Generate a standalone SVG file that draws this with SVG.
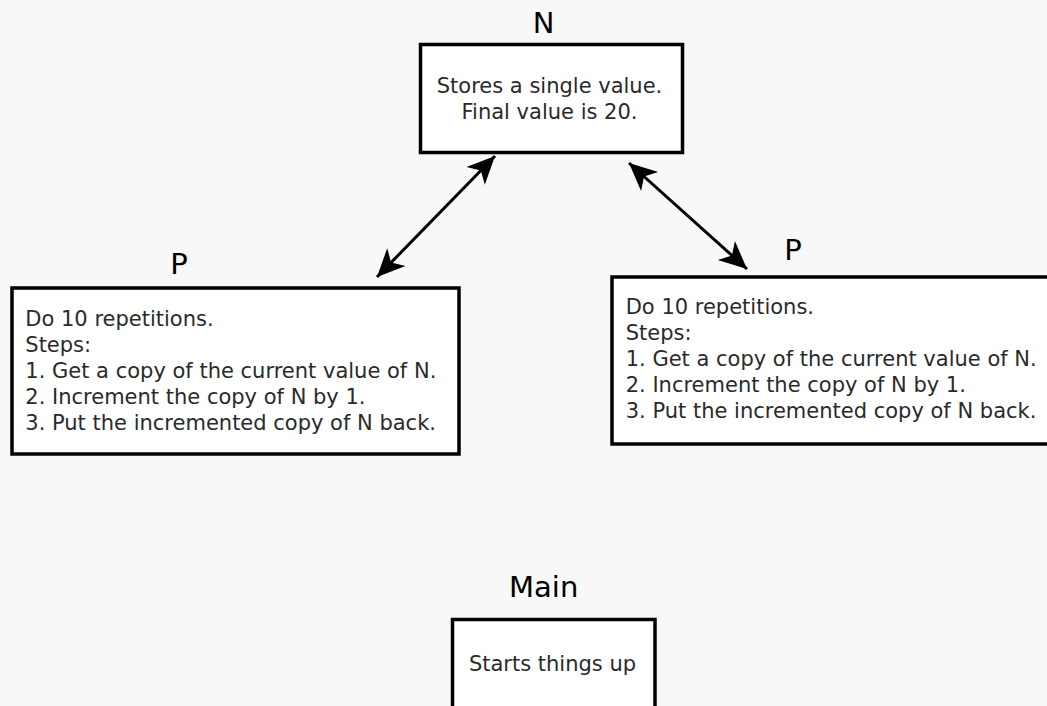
<svg xmlns="http://www.w3.org/2000/svg" width="1047" height="706" viewBox="0 0 1047 706">
<style>
.box{fill:#ffffff;stroke:#000000;stroke-width:3.5}
.title{font-family:"DejaVu Sans","Liberation Sans",sans-serif;font-size:29px;fill:#000000;text-anchor:middle}
.body{font-family:"DejaVu Sans","Liberation Sans",sans-serif;font-size:21px;fill:#2a2a2a}
.mid{text-anchor:middle}
.conn{fill:none;stroke:#000000;stroke-width:3;marker-start:url(#ah);marker-end:url(#ah)}
</style>
<defs>
<marker id="ah" markerUnits="userSpaceOnUse" markerWidth="32" markerHeight="32" viewBox="-28 -14 30 28" refX="0" refY="0" orient="auto-start-reverse">
<path d="M0,0 L-26,-12 L-19,0 L-26,12 Z" fill="#000000"/>
</marker>
</defs>
<rect x="0" y="0" width="1047" height="706" fill="#f8f8f8"/>
<g id="connectors">
<line class="conn" x1="377" y1="277" x2="495" y2="156"/>
<line class="conn" x1="629" y1="163" x2="747" y2="269"/>
</g>
<g id="node-n">
<text class="title" x="543.5" y="33">N</text>
<rect class="box" x="420.5" y="44.5" width="262" height="108"/>
<text class="body mid" x="549.5" y="93">Stores a single value.</text>
<text class="body mid" x="549.5" y="119">Final value is 20.</text>
</g>
<g id="node-p-left">
<text class="title" x="179" y="274">P</text>
<rect class="box" x="12" y="288" width="447" height="166"/>
<text class="body" x="25.3" y="326">Do 10 repetitions.</text>
<text class="body" x="25.3" y="352">Steps:</text>
<text class="body" x="25.3" y="378">1. Get a copy of the current value of N.</text>
<text class="body" x="25.3" y="404">2. Increment the copy of N by 1.</text>
<text class="body" x="25.3" y="430">3. Put the incremented copy of N back.</text>
</g>
<g id="node-p-right">
<text class="title" x="793" y="260">P</text>
<rect class="box" x="612" y="277" width="440" height="167"/>
<text class="body" x="625.7" y="314">Do 10 repetitions.</text>
<text class="body" x="625.7" y="340">Steps:</text>
<text class="body" x="625.7" y="366">1. Get a copy of the current value of N.</text>
<text class="body" x="625.7" y="392">2. Increment the copy of N by 1.</text>
<text class="body" x="625.7" y="418">3. Put the incremented copy of N back.</text>
</g>
<g id="node-main">
<text class="title" x="543.7" y="597">Main</text>
<rect class="box" x="452.5" y="619.5" width="202.5" height="100"/>
<text class="body mid" x="552.5" y="671">Starts things up</text>
</g>
</svg>
